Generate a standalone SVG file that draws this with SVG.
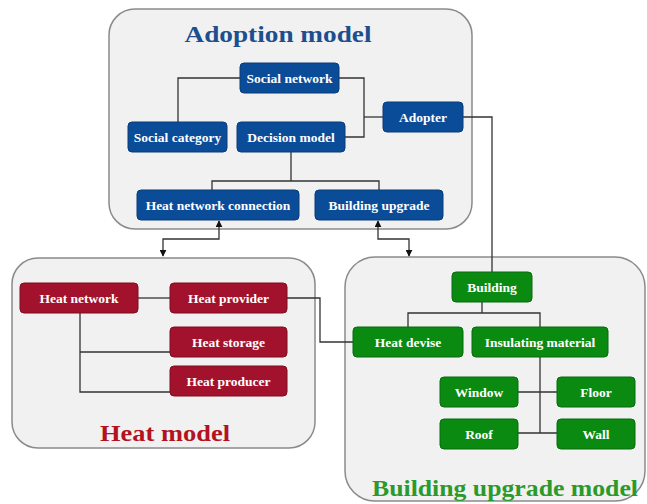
<svg xmlns="http://www.w3.org/2000/svg" width="647" height="504" viewBox="0 0 647 504">
<defs>
<style>
.panel{fill:#f1f1f1;stroke:#8a8a8a;stroke-width:1.5}
.blue rect{fill:#0b4c98;stroke:#083a78;stroke-width:1}
.red rect{fill:#a3122c;stroke:#7e0d20;stroke-width:1}
.green rect{fill:#0b8a12;stroke:#086a0d;stroke-width:1}
.lbl{font-family:"Liberation Serif","Times New Roman",serif;font-size:13.5px;fill:#ffffff;text-anchor:middle;font-weight:bold}
.title{font-family:"Liberation Serif","Times New Roman",serif;font-weight:bold;text-anchor:middle}
.conn path{fill:none;stroke:#333;stroke-width:1.3}
</style>
<marker id="ah" viewBox="0 0 10 10" refX="9" refY="5" markerWidth="7" markerHeight="7" orient="auto-start-reverse" markerUnits="userSpaceOnUse">
<path d="M0,0 L10,5 L0,10 z" fill="#111"/>
</marker>
</defs>
<rect width="647" height="504" fill="#ffffff"/>

<g id="adoption-panel">
<rect class="panel" x="109" y="9" width="363" height="220" rx="26"/>
<text class="title" x="278" y="42" font-size="24" fill="#1d4f8f" textLength="187" lengthAdjust="spacingAndGlyphs">Adoption model</text>
</g>
<g id="heat-panel">
<rect class="panel" x="12" y="258" width="303" height="190" rx="26"/>
<text class="title" x="165" y="441" font-size="24" fill="#b3121f" textLength="130" lengthAdjust="spacingAndGlyphs">Heat model</text>
</g>
<g id="building-panel">
<rect class="panel" x="345" y="257" width="300" height="244" rx="30"/>
<text class="title" x="505" y="496" font-size="23" fill="#2a9a2a" textLength="266" lengthAdjust="spacingAndGlyphs">Building upgrade model</text>
</g>

<g class="conn" id="connectors">
<path d="M240,78 H178 V122"/>
<path d="M339,78 H364 V137 H345"/>
<path d="M364,117 H383"/>
<path d="M291,152 V181 M212,190 V181 H379 V190"/>
<path d="M463,117 H492 V272"/>
<path d="M219,221 V239 H163 V256" marker-start="url(#ah)" marker-end="url(#ah)"/>
<path d="M378,221 V239 H409 V256" marker-start="url(#ah)" marker-end="url(#ah)"/>
<path d="M138,298 H170"/>
<path d="M80,313 V392 H170 M80,352 H170"/>
<path d="M287,298 H320 V342 H353"/>
<path d="M482,302 V313 M408,327 V313 H540 V327"/>
<path d="M540,357 V433 M518,392 H557 M518,433 H557"/>
</g>

<g id="social-network" class="blue"><rect x="240" y="63" width="99" height="30" rx="4"/><text class="lbl" x="289.5" y="82.5">Social network</text></g>
<g id="social-category" class="blue"><rect x="128" y="122" width="99" height="30" rx="4"/><text class="lbl" x="177.5" y="141.5">Social category</text></g>
<g id="decision-model" class="blue"><rect x="237" y="122" width="108" height="30" rx="4"/><text class="lbl" x="291" y="141.5">Decision model</text></g>
<g id="adopter" class="blue"><rect x="383" y="102" width="80" height="30" rx="4"/><text class="lbl" x="423" y="121.5">Adopter</text></g>
<g id="heat-network-connection" class="blue"><rect x="137" y="190" width="162" height="30" rx="4"/><text class="lbl" x="218" y="209.5">Heat network connection</text></g>
<g id="building-upgrade" class="blue"><rect x="315" y="190" width="128" height="30" rx="4"/><text class="lbl" x="379" y="209.5">Building upgrade</text></g>

<g id="heat-network" class="red"><rect x="20" y="283" width="118" height="30" rx="4"/><text class="lbl" x="79" y="302.5">Heat network</text></g>
<g id="heat-provider" class="red"><rect x="170" y="283" width="117" height="30" rx="4"/><text class="lbl" x="228.5" y="302.5">Heat provider</text></g>
<g id="heat-storage" class="red"><rect x="170" y="327" width="117" height="30" rx="4"/><text class="lbl" x="228.5" y="346.5">Heat storage</text></g>
<g id="heat-producer" class="red"><rect x="170" y="366" width="117" height="30" rx="4"/><text class="lbl" x="228.5" y="385.5">Heat producer</text></g>

<g id="building" class="green"><rect x="452" y="272" width="80" height="30" rx="4"/><text class="lbl" x="492" y="291.5">Building</text></g>
<g id="heat-devise" class="green"><rect x="353" y="327" width="110" height="30" rx="4"/><text class="lbl" x="408" y="346.5">Heat devise</text></g>
<g id="insulating-material" class="green"><rect x="472" y="327" width="136" height="30" rx="4"/><text class="lbl" x="540" y="346.5">Insulating material</text></g>
<g id="window" class="green"><rect x="440" y="377" width="78" height="30" rx="4"/><text class="lbl" x="479" y="396.5">Window</text></g>
<g id="floor" class="green"><rect x="557" y="377" width="78" height="30" rx="4"/><text class="lbl" x="596" y="396.5">Floor</text></g>
<g id="roof" class="green"><rect x="440" y="419" width="78" height="30" rx="4"/><text class="lbl" x="479" y="438.5">Roof</text></g>
<g id="wall" class="green"><rect x="557" y="419" width="78" height="30" rx="4"/><text class="lbl" x="596" y="438.5">Wall</text></g>
</svg>
